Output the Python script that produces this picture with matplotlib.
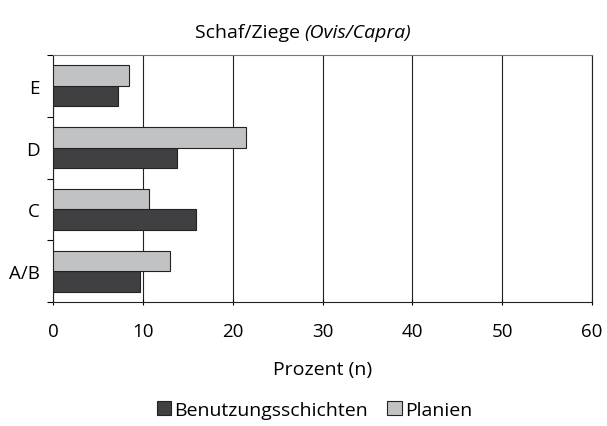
import matplotlib
matplotlib.use("Agg")
import matplotlib.pyplot as plt
from matplotlib.patches import Patch

plt.rcParams["font.family"] = ["Open Sans", "DejaVu Sans"]

categories = ["A/B", "C", "D", "E"]
benutzung = [9.7, 15.9, 13.8, 7.2]
planien = [13.0, 10.7, 21.5, 8.4]
xticks = [0, 10, 20, 30, 40, 50, 60]

dark = "#404043"
light = "#c0c2c4"

fig = plt.figure(figsize=(6.07, 4.27), dpi=100)
ax = fig.add_axes([53.3 / 607, 1 - 303.3 / 427, (592 - 53.3) / 607, (303.3 - 55.7) / 427])

h = 0.33
pos = list(range(len(categories)))
ax.barh([p - h / 2 for p in pos], benutzung, height=h, color=dark,
        edgecolor="#222222", linewidth=0.8, zorder=3)
ax.barh([p + h / 2 for p in pos], planien, height=h, color=light,
        edgecolor="#222222", linewidth=0.8, zorder=3)

ax.set_xlim(0, 60)
ax.set_ylim(-0.5, len(categories) - 0.5)
ax.set_xticks(xticks)
ax.set_xticklabels([str(t) for t in xticks], fontsize=13.5)
ax.tick_params(axis="x", length=5, width=0.8, direction="inout", pad=12)
ax.set_yticks(pos)
ax.set_yticklabels(categories, fontsize=13.5)
ax.tick_params(axis="y", which="major", length=0, pad=10)
ax.set_yticks([p - 0.5 for p in pos] + [len(categories) - 0.5], minor=True)
ax.tick_params(axis="y", which="minor", length=4, width=0.8, direction="out")

ax.grid(axis="x", color="#222222", linewidth=0.8, zorder=0)
for s in ax.spines.values():
    s.set_color("#222222")
    s.set_linewidth(0.8)
ax.spines["top"].set_color("#777777")

ax.set_xlabel("Prozent (n)", fontsize=14, labelpad=14)

# title with italic latin name
fig.text(0.502, 1 - 33 / 427, "Schaf/Ziege ", ha="right", va="center", fontsize=14)
fig.text(0.502, 1 - 33 / 427, "(Ovis/Capra)", ha="left", va="center",
         fontsize=14, style="italic")

handles = [Patch(facecolor=dark, edgecolor="#222222", linewidth=0.8),
           Patch(facecolor=light, edgecolor="#222222", linewidth=0.8)]
fig.legend(handles, ["Benutzungsschichten", "Planien"], loc="center",
           bbox_to_anchor=(0.518, 1 - 411 / 427), ncol=2, frameon=False,
           fontsize=14, handlelength=0.75, handleheight=0.75, handletextpad=0.15,
           columnspacing=1.0)

fig.savefig("out.png", dpi=100)
